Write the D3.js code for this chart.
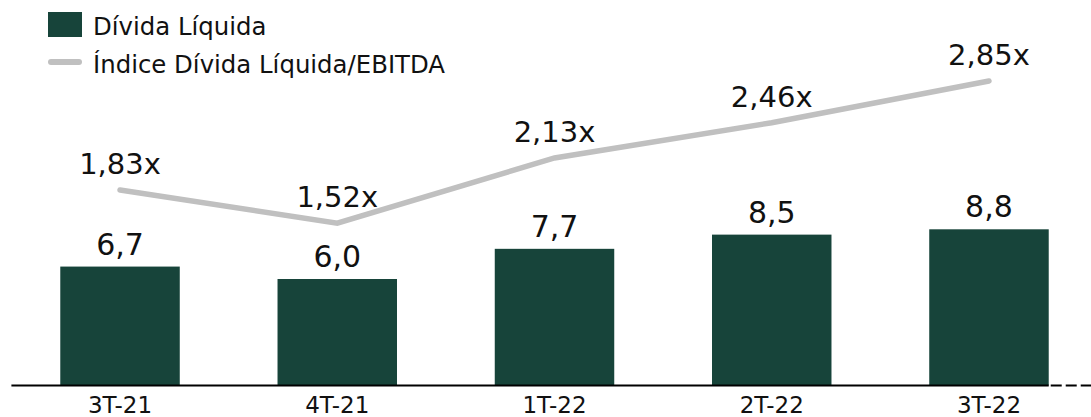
<!DOCTYPE html>
<html>
<head>
<meta charset="utf-8">
<script src="https://cdn.jsdelivr.net/npm/d3@7"></script>
<style>
  body { margin: 0; background: #fff; }
  text { font-family: "DejaVu Sans", Verdana, sans-serif; fill: #111; }
</style>
</head>
<body>
<div id="chart"></div>
<script>
const categories = ['3T-21', '4T-21', '1T-22', '2T-22', '3T-22'];
const dividaLiquida = [6.7, 6.0, 7.7, 8.5, 8.8];
const indice = [1.83, 1.52, 2.13, 2.46, 2.85];
const seriesNames = ['Dívida Líquida', 'Índice Dívida Líquida/EBITDA'];

const width = 1091, height = 417;
const barColor = '#17443a', lineColor = '#c0c0c0';
const baseY = 385.5;

const svg = d3.select('#chart').append('svg')
    .attr('width', width)
    .attr('height', height);

// scales
const x = d3.scaleBand()
    .domain(categories)
    .range([11.4, 1097.6])
    .paddingInner(0.45)
    .paddingOuter(0.225);

const y = d3.scaleLinear().domain([0, 10]).range([baseY, baseY - 177.5]);
const y2 = d3.scaleLinear().domain([0, 3]).range([baseY, baseY - 320.5]);

const fmt = v => v.toFixed(1).replace('.', ',');
const fmtX = v => v.toFixed(2).replace('.', ',') + 'x';

// bars
svg.selectAll('rect.bar')
    .data(dividaLiquida)
    .enter()
    .append('rect')
    .attr('class', 'bar')
    .attr('x', (d, i) => x(categories[i]))
    .attr('y', d => y(d))
    .attr('width', x.bandwidth())
    .attr('height', d => y(0) - y(d))
    .attr('fill', barColor);

svg.selectAll('text.barlabel')
    .data(dividaLiquida)
    .enter()
    .append('text')
    .attr('class', 'barlabel')
    .attr('x', (d, i) => x(categories[i]) + x.bandwidth() / 2)
    .attr('y', d => y(d) - 12)
    .attr('text-anchor', 'middle')
    .style('font-size', '30px')
    .text(fmt);

// axis line
svg.append('line')
    .attr('x1', x.range()[0]).attr('x2', x(categories[4]) + x.bandwidth())
    .attr('y1', baseY).attr('y2', baseY)
    .attr('stroke', '#000').attr('stroke-width', 2);
svg.append('line')
    .attr('x1', x(categories[4]) + x.bandwidth() + 2).attr('x2', width)
    .attr('y1', baseY).attr('y2', baseY)
    .attr('stroke', '#000').attr('stroke-width', 2)
    .attr('stroke-dasharray', '11,4');

// category labels
svg.selectAll('text.cat')
    .data(categories)
    .enter()
    .append('text')
    .attr('class', 'cat')
    .attr('x', d => x(d) + x.bandwidth() / 2)
    .attr('y', 413)
    .attr('text-anchor', 'middle')
    .style('font-size', '23px')
    .text(d => d);

// ratio line
const line = d3.line()
    .x((d, i) => x(categories[i]) + x.bandwidth() / 2)
    .y(d => y2(d));

svg.append('path')
    .datum(indice)
    .attr('d', line)
    .attr('fill', 'none')
    .attr('stroke', lineColor)
    .attr('stroke-width', 5.5)
    .attr('stroke-linecap', 'round')
    .attr('stroke-linejoin', 'miter');

svg.selectAll('text.linelabel')
    .data(indice)
    .enter()
    .append('text')
    .attr('class', 'linelabel')
    .attr('x', (d, i) => x(categories[i]) + x.bandwidth() / 2)
    .attr('y', d => y2(d) - 16)
    .attr('text-anchor', 'middle')
    .style('font-size', '29px')
    .text(fmtX);

// legend
const legend = svg.append('g');
legend.append('rect')
    .attr('x', 48).attr('y', 12)
    .attr('width', 34).attr('height', 25)
    .attr('fill', barColor);
legend.append('text')
    .attr('x', 93).attr('y', 35)
    .style('font-size', '24.4px')
    .text(seriesNames[0]);
legend.append('line')
    .attr('x1', 51).attr('x2', 79)
    .attr('y1', 62).attr('y2', 62)
    .attr('stroke', lineColor)
    .attr('stroke-width', 6)
    .attr('stroke-linecap', 'round');
legend.append('text')
    .attr('x', 93).attr('y', 73)
    .style('font-size', '24.4px')
    .text(seriesNames[1]);
</script>
</body>
</html>
